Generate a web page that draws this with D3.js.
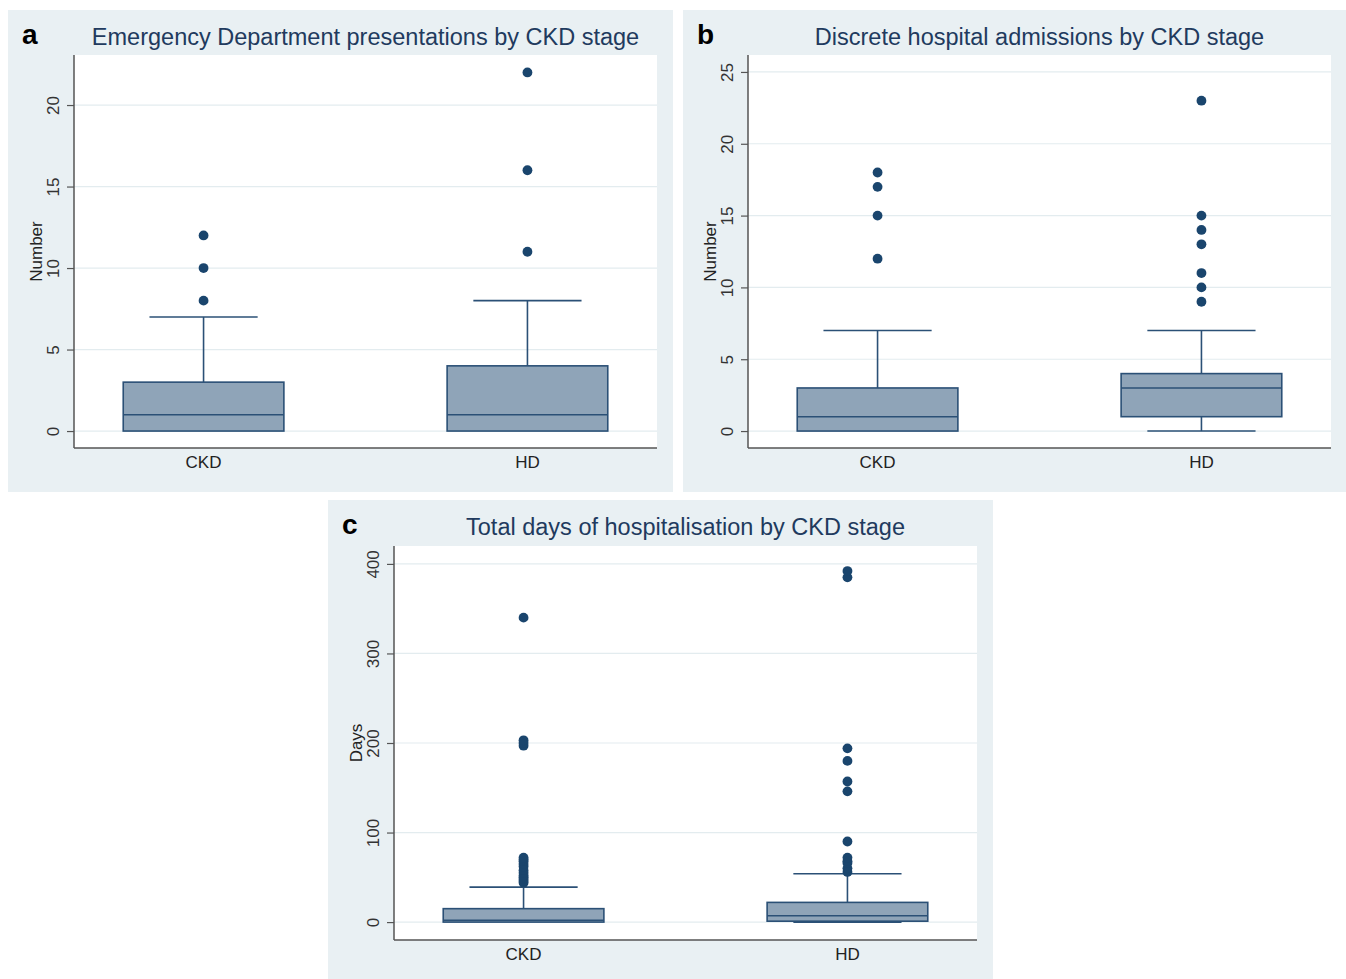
<!DOCTYPE html>
<html lang="en">
<head>
<meta charset="UTF-8">
<title>CKD box plots</title>
<script src="https://d3js.org/d3.v7.min.js"></script>
<style>
  body { margin: 0; background: #ffffff; }
  svg { display: block; font-family: "Liberation Sans", Arial, sans-serif; }
</style>
</head>
<body>
<div id="chart"></div>
<script>
// categories shared by all three panels
const categories = ["CKD", "HD"];

// a: Emergency Department presentations
const edStats = [
  {q1: 0, med: 1, q3: 3, lo: 0, hi: 7},
  {q1: 0, med: 1, q3: 4, lo: 0, hi: 8}
];
const edOutliers = [[8, 10, 12], [11, 16, 22]];
const edTicks = [0, 5, 10, 15, 20];

// b: discrete hospital admissions
const admStats = [
  {q1: 0, med: 1, q3: 3, lo: 0, hi: 7},
  {q1: 1, med: 3, q3: 4, lo: 0, hi: 7}
];
const admOutliers = [[12, 15, 17, 18], [9, 10, 11, 13, 14, 15, 23]];
const admTicks = [0, 5, 10, 15, 20, 25];

// c: total days of hospitalisation
const daysStats = [
  {q1: 0, med: 2, q3: 15, lo: 0, hi: 39},
  {q1: 1, med: 7, q3: 22, lo: 0, hi: 54}
];
const daysOutliers = [
  [44, 46, 48, 50, 52, 55, 58, 62, 65, 68, 70, 72, 197, 200, 203, 340],
  [56, 60, 66, 68, 72, 90, 146, 157, 180, 194, 385, 392]
];
const daysTicks = [0, 100, 200, 300, 400];

const panels = [
  {letter: "a", title: "Emergency Department presentations by CKD stage", ytitle: "Number",
   stats: edStats, outliers: edOutliers, ticks: edTicks, domain: [-1.04, 23.07],
   bg: [8, 10, 665, 482], plot: [74, 55, 657, 448]},
  {letter: "b", title: "Discrete hospital admissions by CKD stage", ytitle: "Number",
   stats: admStats, outliers: admOutliers, ticks: admTicks, domain: [-1.18, 26.18],
   bg: [683, 10, 663, 482], plot: [748, 55, 1331, 448]},
  {letter: "c", title: "Total days of hospitalisation by CKD stage", ytitle: "Days",
   stats: daysStats, outliers: daysOutliers, ticks: daysTicks, domain: [-20, 420],
   bg: [328, 500, 665, 479], plot: [394, 546, 977, 940]}
];

const navy = "#1a456d";
const boxFill = "#8fa4b8";
const boxLine = "#2b5076";

const svg = d3.select("#chart").append("svg")
  .attr("width", 1346)
  .attr("height", 979);

panels.forEach(p => {
  const [bx, by, bw, bh] = p.bg;
  const [x0, y0, x1, y1] = p.plot;

  const g = svg.append("g");

  // graph region and plot region
  g.append("rect").attr("x", bx).attr("y", by).attr("width", bw).attr("height", bh)
    .attr("fill", "#e9f0f3");
  g.append("rect").attr("x", x0).attr("y", y0).attr("width", x1 - x0).attr("height", y1 - y0)
    .attr("fill", "#ffffff");

  const x = d3.scalePoint().domain(categories).range([x0, x1]).padding(0.4);
  const y = d3.scaleLinear().domain(p.domain).range([y1, y0]);
  const step = x.step();
  const halfBox = step * 0.248;
  const halfCap = step * 0.167;

  // gridlines
  g.selectAll(".grid").data(p.ticks).join("line")
    .attr("x1", x0).attr("x2", x1)
    .attr("y1", d => y(d)).attr("y2", d => y(d))
    .attr("stroke", "#e3ecef").attr("stroke-width", 1.2);

  // y axis
  const yAxis = g.append("g")
    .attr("transform", `translate(${x0},0)`)
    .call(d3.axisLeft(y).tickValues(p.ticks).tickSize(7).tickPadding(6).tickSizeOuter(0));
  yAxis.select(".domain").remove();
  yAxis.selectAll(".tick line").attr("stroke", "#555").attr("stroke-width", 1.2);
  yAxis.selectAll(".tick text")
    .attr("x", 0).attr("dy", 0)
    .attr("transform", "translate(-15,0) rotate(-90)")
    .attr("text-anchor", "middle")
    .attr("fill", "#333")
    .style("font-size", "17px")
    .style("font-family", "'Liberation Sans', Arial, sans-serif");

  // axis lines
  g.append("line").attr("x1", x0).attr("x2", x0).attr("y1", y0).attr("y2", y1)
    .attr("stroke", "#555").attr("stroke-width", 1.5);
  g.append("line").attr("x1", x0).attr("x2", x1).attr("y1", y1).attr("y2", y1)
    .attr("stroke", "#555").attr("stroke-width", 1.5);

  // category labels
  g.selectAll(".cat").data(categories).join("text")
    .attr("x", d => x(d)).attr("y", y1 + 20)
    .attr("text-anchor", "middle")
    .attr("fill", "#222")
    .style("font-size", "17px")
    .text(d => d);

  // y axis title
  g.append("text")
    .attr("transform", `translate(${x0 - 32},${(y0 + y1) / 2}) rotate(-90)`)
    .attr("text-anchor", "middle")
    .attr("fill", "#222")
    .style("font-size", "17px")
    .text(p.ytitle);

  // title and panel letter
  g.append("text")
    .attr("x", (x0 + x1) / 2).attr("y", by + 35)
    .attr("text-anchor", "middle")
    .attr("fill", "#213a5e")
    .style("font-size", "23.5px")
    .text(p.title);
  g.append("text")
    .attr("x", bx + 14).attr("y", by + 34)
    .attr("fill", "#000")
    .style("font-size", "28px")
    .style("font-weight", "bold")
    .text(p.letter);

  // boxes
  p.stats.forEach((s, i) => {
    const cx = x(categories[i]);
    // whiskers
    g.append("line").attr("x1", cx).attr("x2", cx).attr("y1", y(s.q3)).attr("y2", y(s.hi))
      .attr("stroke", boxLine).attr("stroke-width", 1.6);
    g.append("line").attr("x1", cx - halfCap).attr("x2", cx + halfCap)
      .attr("y1", y(s.hi)).attr("y2", y(s.hi))
      .attr("stroke", boxLine).attr("stroke-width", 1.6);
    if (s.lo < s.q1) {
      g.append("line").attr("x1", cx).attr("x2", cx).attr("y1", y(s.q1)).attr("y2", y(s.lo))
        .attr("stroke", boxLine).attr("stroke-width", 1.6);
      g.append("line").attr("x1", cx - halfCap).attr("x2", cx + halfCap)
        .attr("y1", y(s.lo)).attr("y2", y(s.lo))
        .attr("stroke", boxLine).attr("stroke-width", 1.6);
    }
    g.append("rect")
      .attr("x", cx - halfBox).attr("width", 2 * halfBox)
      .attr("y", y(s.q3)).attr("height", y(s.q1) - y(s.q3))
      .attr("fill", boxFill).attr("stroke", boxLine).attr("stroke-width", 1.6);
    g.append("line").attr("x1", cx - halfBox).attr("x2", cx + halfBox)
      .attr("y1", y(s.med)).attr("y2", y(s.med))
      .attr("stroke", boxLine).attr("stroke-width", 1.6);

    // outliers
    g.selectAll(null).data(p.outliers[i]).join("circle")
      .attr("cx", cx).attr("cy", d => y(d)).attr("r", 4.9)
      .attr("fill", navy);
  });
});
</script>
</body>
</html>
